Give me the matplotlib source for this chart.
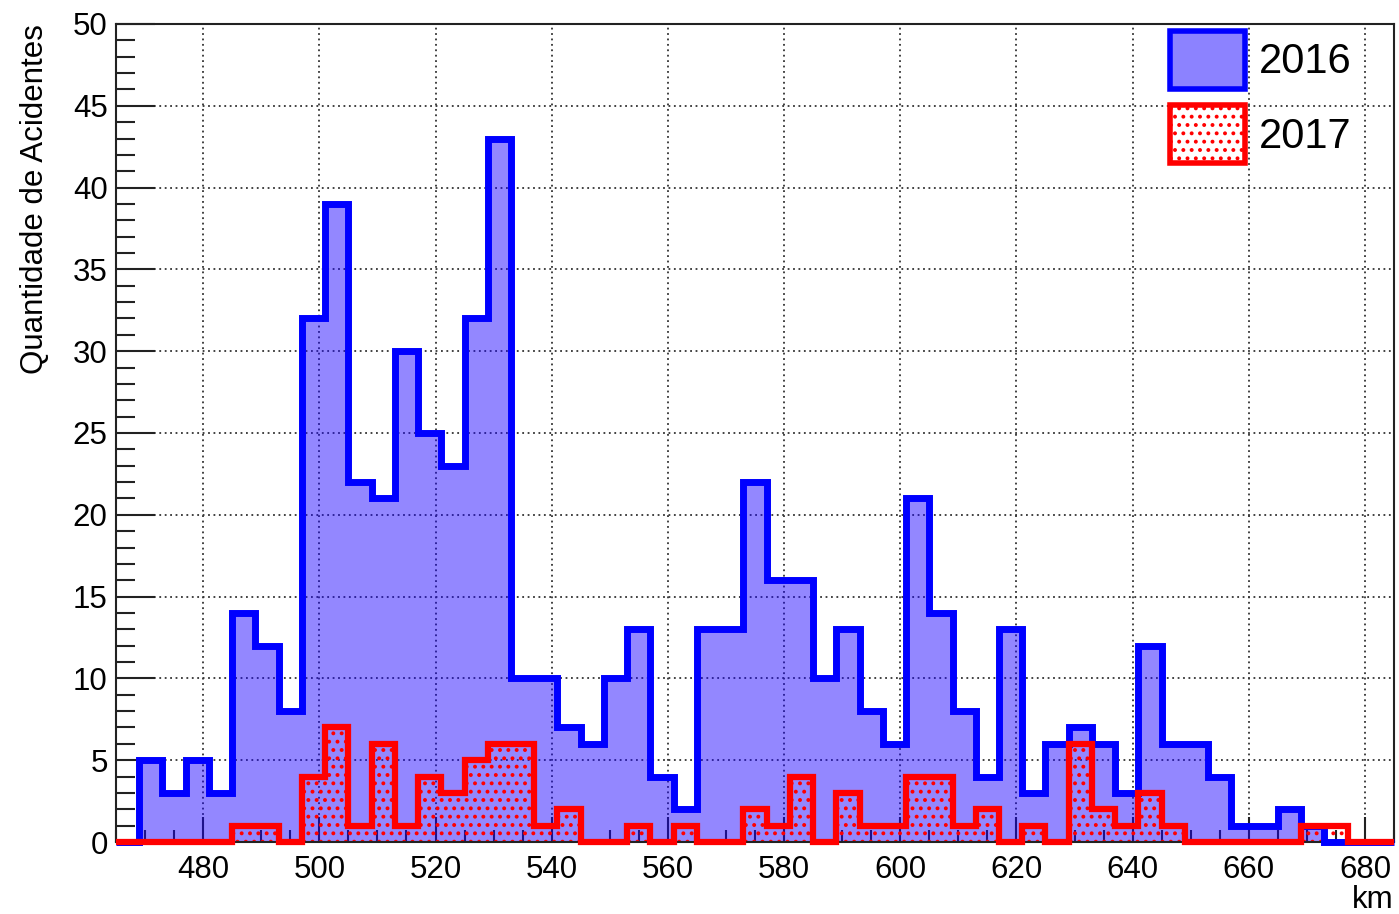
"""Accidents per km histogram, 2016 vs 2017 (ROOT-like style)."""

import matplotlib

matplotlib.use("Agg")
import matplotlib.pyplot as plt
import numpy as np
from matplotlib.patches import Patch
from matplotlib.ticker import MultipleLocator

# 55 bins of 4 km from 465 to 685
KM_START = 465
KM_STOP = 685
BIN_WIDTH = 4

COUNTS_2016 = [
    0, 5, 3, 5, 3, 14, 12, 8, 32, 39,
    22, 21, 30, 25, 23, 32, 43, 10, 10, 7,
    6, 10, 13, 4, 2, 13, 13, 22, 16, 16,
    10, 13, 8, 6, 21, 14, 8, 4, 13, 3,
    6, 7, 6, 3, 12, 6, 6, 4, 1, 1,
    2, 1, 0, 0, 0,
]
COUNTS_2017 = [
    0, 0, 0, 0, 0, 1, 1, 0, 4, 7,
    1, 6, 1, 4, 3, 5, 6, 6, 1, 2,
    0, 0, 1, 0, 1, 0, 0, 2, 1, 4,
    0, 3, 1, 1, 4, 4, 1, 2, 0, 1,
    0, 6, 2, 1, 3, 1, 0, 0, 0, 0,
    0, 1, 1, 0, 0,
]
LABELS = ["2016", "2017"]

BLUE = "#0000ff"
FILL_BLUE = "#1a00ff"
RED = "#ff0000"
FONT = ["Liberation Sans", "DejaVu Sans"]
W, H = 1399, 914
AX_L, AX_R, AX_T, AX_B = 116, 1394, 24, 842


def main() -> None:
    plt.rcParams["font.family"] = FONT
    plt.rcParams["hatch.linewidth"] = 1.6

    edges = np.arange(KM_START, KM_STOP + BIN_WIDTH, BIN_WIDTH)
    h16 = np.array(COUNTS_2016)
    h17 = np.array(COUNTS_2017)

    fig = plt.figure(figsize=(W / 100, H / 100), dpi=100)
    ax = fig.add_axes([AX_L / W, 1 - AX_B / H, (AX_R - AX_L) / W, (AX_B - AX_T) / H])

    # fills
    ax.stairs(h16, edges, fill=True, facecolor=FILL_BLUE, alpha=0.47, linewidth=0, zorder=1)
    ax.stairs(h17, edges, fill=True, facecolor="none", edgecolor=RED, hatch="..",
              linewidth=0, zorder=1.2)
    # outlines
    ax.stairs(h16, edges, fill=False, color=BLUE, linewidth=5, zorder=3, clip_on=False)
    ax.stairs(h17, edges, fill=False, color=RED, linewidth=4.5, zorder=3.2, clip_on=False)

    ax.set_xlim(KM_START, KM_STOP)
    ax.set_ylim(0, 50)
    ax.xaxis.set_major_locator(MultipleLocator(20))
    ax.xaxis.set_minor_locator(MultipleLocator(5))
    ax.yaxis.set_major_locator(MultipleLocator(5))
    ax.yaxis.set_minor_locator(MultipleLocator(1))

    ax.set_axisbelow(True)
    ax.grid(True, which="major", color="#333333", linestyle=(0, (1, 2)), linewidth=1.3)

    ax.tick_params(axis="both", which="both", direction="in", colors="#222222",
                   top=False, right=False)
    ax.tick_params(axis="x", which="major", length=18, width=1.5, labelsize=22.5, pad=9,
                   labelcolor="black")
    ax.tick_params(axis="x", which="minor", length=9, width=1.5)
    ax.tick_params(axis="y", which="major", length=28, width=1.5, labelsize=22.5, pad=6,
                   labelcolor="black")
    ax.tick_params(axis="y", which="minor", length=14, width=1.5)
    for spine in ax.spines.values():
        spine.set_linewidth(1.5)
        spine.set_color("#222222")

    fig.text(35 / W, 1 - 24 / H, "Quantidade de Acidentes", rotation=90,
             ha="center", va="top", fontsize=22.5)
    fig.text(1393 / W, 1 - 900 / H, "km", ha="right", va="center", fontsize=22.5)

    handles = [
        Patch(facecolor=(0.55, 0.51, 1.0), edgecolor=BLUE, linewidth=4, label=LABELS[0]),
        Patch(facecolor="white", edgecolor=RED, linewidth=4, hatch="..", label=LABELS[1]),
    ]
    anchor = ((1352 - AX_L) / (AX_R - AX_L), (AX_B - 31) / (AX_B - AX_T))
    ax.legend(handles=handles, loc="upper right", bbox_to_anchor=anchor,
              bbox_transform=ax.transAxes, frameon=False, fontsize=30,
              handlelength=1.8, handleheight=1.75, handletextpad=0.35,
              labelspacing=0.4, borderpad=0, borderaxespad=0)

    fig.savefig("out.png", dpi=100)


if __name__ == "__main__":
    main()
